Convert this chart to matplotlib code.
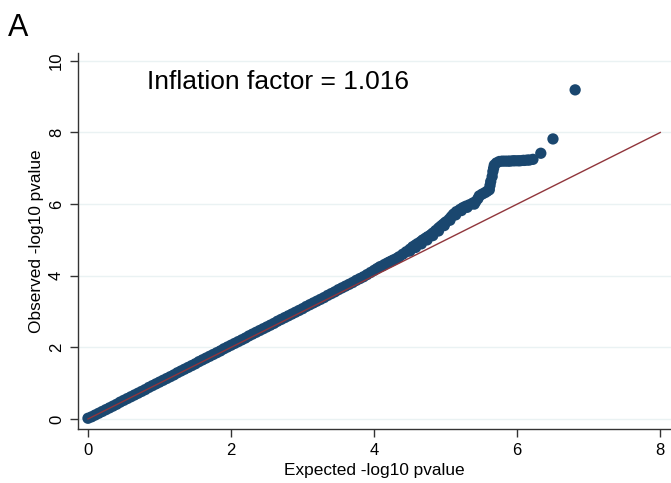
import matplotlib
matplotlib.use("Agg")
import matplotlib.pyplot as plt

plt.rcParams['font.family'] = ['Liberation Sans', 'DejaVu Sans']

# Expected vs observed -log10 p-values
expected = [0.00, 0.05, 0.10, 0.15, 0.20, 0.25, 0.30, 0.35, 0.40, 0.45,
            0.50, 0.55, 0.60, 0.65, 0.70, 0.75, 0.80, 0.85, 0.90, 0.95,
            1.00, 1.05, 1.10, 1.15, 1.20, 1.25, 1.30, 1.35, 1.40, 1.45,
            1.50, 1.55, 1.60, 1.65, 1.70, 1.75, 1.80, 1.85, 1.90, 1.95,
            2.00, 2.05, 2.10, 2.15, 2.20, 2.25, 2.30, 2.35, 2.40, 2.45,
            2.50, 2.55, 2.60, 2.65, 2.70, 2.75, 2.80, 2.85, 2.90, 2.95,
            3.00, 3.05, 3.10, 3.15, 3.20, 3.25, 3.30, 3.35, 3.40, 3.45,
            3.50, 3.55, 3.60, 3.65, 3.70, 3.75, 3.80, 3.85, 3.90, 3.95,
            4.00, 4.04, 4.08, 4.12, 4.15, 4.19, 4.22, 4.25, 4.28, 4.32,
            4.35, 4.40, 4.45, 4.50, 4.54, 4.58, 4.61, 4.65, 4.68, 4.72,
            4.75, 4.79, 4.82, 4.86, 4.90, 4.93, 4.96, 4.99, 5.01, 5.05,
            5.08, 5.11, 5.15, 5.20, 5.24, 5.28, 5.33, 5.38, 5.42, 5.45,
            5.47, 5.51, 5.55, 5.58, 5.61, 5.62, 5.63, 5.65, 5.66, 5.67,
            5.68, 5.71, 5.75, 5.79, 5.83, 5.87, 5.90, 5.94, 5.97, 6.01,
            6.04, 6.08, 6.10, 6.14, 6.17, 6.22, 6.33, 6.50, 6.81,
            4.50, 4.58, 4.66, 4.74, 4.82, 4.90, 4.98, 5.06, 5.14, 5.22,
            5.30, 5.40]
observed = [0.02, 0.06, 0.11, 0.16, 0.21, 0.26, 0.31, 0.36, 0.41, 0.47,
            0.52, 0.57, 0.62, 0.67, 0.72, 0.77, 0.82, 0.88, 0.93, 0.98,
            1.03, 1.08, 1.13, 1.18, 1.23, 1.29, 1.34, 1.39, 1.44, 1.49,
            1.54, 1.60, 1.65, 1.70, 1.75, 1.80, 1.85, 1.90, 1.96, 2.01,
            2.06, 2.11, 2.16, 2.21, 2.26, 2.32, 2.37, 2.42, 2.47, 2.52,
            2.57, 2.62, 2.67, 2.73, 2.78, 2.83, 2.88, 2.93, 2.98, 3.03,
            3.08, 3.14, 3.19, 3.24, 3.29, 3.34, 3.39, 3.45, 3.50, 3.55,
            3.61, 3.66, 3.71, 3.76, 3.81, 3.87, 3.92, 3.97, 4.03, 4.09,
            4.15, 4.20, 4.25, 4.28, 4.32, 4.36, 4.39, 4.42, 4.45, 4.49,
            4.53, 4.60, 4.67, 4.74, 4.81, 4.86, 4.90, 4.95, 5.00, 5.05,
            5.09, 5.14, 5.19, 5.26, 5.33, 5.38, 5.43, 5.48, 5.51, 5.58,
            5.65, 5.72, 5.79, 5.85, 5.90, 5.94, 5.98, 6.03, 6.07, 6.15,
            6.23, 6.28, 6.32, 6.36, 6.40, 6.52, 6.63, 6.77, 6.91, 7.00,
            7.09, 7.15, 7.19, 7.20, 7.20, 7.20, 7.20, 7.21, 7.21, 7.21,
            7.21, 7.22, 7.22, 7.23, 7.23, 7.25, 7.42, 7.82, 9.19,
            4.69, 4.79, 4.89, 5.00, 5.12, 5.25, 5.40, 5.55, 5.70, 5.82,
            5.91, 6.00]

ref_line = [0, 8]
xticks = [0, 2, 4, 6, 8]
yticks = [0, 2, 4, 6, 8, 10]
annotation = "Inflation factor = 1.016"

fig = plt.figure(figsize=(6.71, 4.83), dpi=100)
ax = fig.add_axes([0.1162, 0.1118, 0.8838, 0.7785])

ax.set_xlim(-0.14, 8.15)
ax.set_ylim(-0.28, 10.22)

for y in yticks:
    ax.axhline(y, color='#eaf2f3', lw=1.0, zorder=0)

ax.scatter(expected, observed, s=66, color='#1a476f', edgecolors='none', zorder=2)
ax.plot(ref_line, ref_line, color='#90353b', lw=1.0, zorder=3)

ax.set_xticks(xticks)
ax.set_yticks(yticks)
ax.set_xticklabels([str(t) for t in xticks], fontsize=12)
ax.set_yticklabels([str(t) for t in yticks], fontsize=12, rotation=90, va='center')
ax.tick_params(direction='out', length=6, width=1, color='#333333', pad=4)

for s in ['top', 'right']:
    ax.spines[s].set_visible(False)
for s in ['left', 'bottom']:
    ax.spines[s].set_color('#333333')
    ax.spines[s].set_linewidth(1.0)

ax.set_xlabel('Expected -log10 pvalue', fontsize=12.4, labelpad=4)
ax.set_ylabel('Observed -log10 pvalue', fontsize=12.4, labelpad=4)

ax.text(0.82, 9.41, annotation, fontsize=19, va='center', ha='left')
fig.text(0.012, 0.942, 'A', fontsize=22, va='center', ha='left')

fig.savefig('out.png', dpi=100)
